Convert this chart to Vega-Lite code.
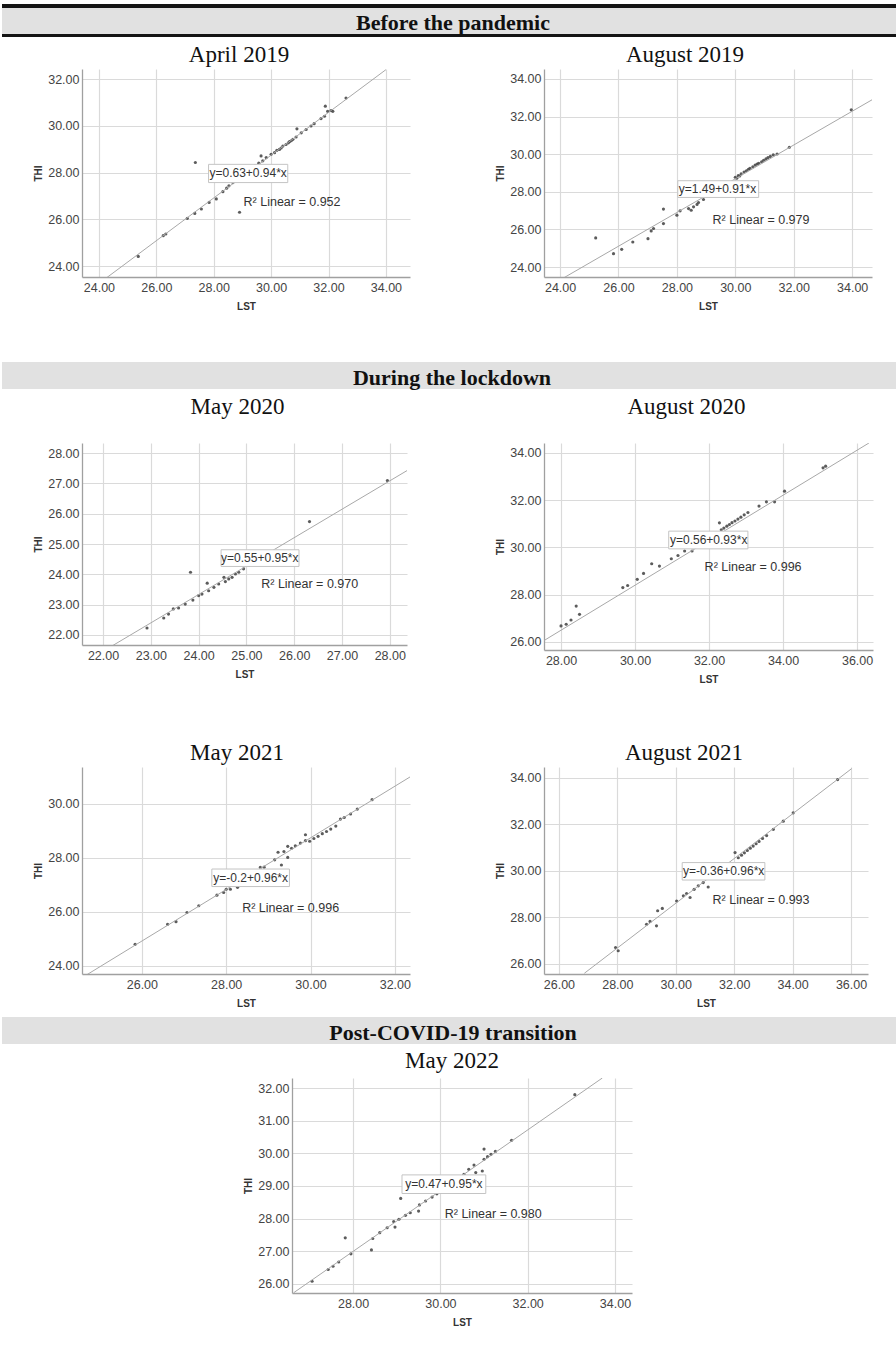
{
  "$schema": "https://vega.github.io/schema/vega-lite/v6.json",
  "background": "white",
  "padding": {"left": 0, "top": 3, "right": 0, "bottom": 0},
  "datasets": {
    "pts": [
      {"p":"A19","LST":25.37,"THI":24.41},{"p":"A19","LST":26.24,"THI":25.3},{"p":"A19","LST":26.33,"THI":25.37},{"p":"A19","LST":27.08,"THI":26.04},{"p":"A19","LST":27.34,"THI":26.25},{"p":"A19","LST":27.57,"THI":26.44},{"p":"A19","LST":27.36,"THI":28.43},{"p":"A19","LST":27.84,"THI":26.72},{"p":"A19","LST":28.09,"THI":26.87},{"p":"A19","LST":28.32,"THI":27.18},{"p":"A19","LST":28.45,"THI":27.33},{"p":"A19","LST":28.53,"THI":27.43},{"p":"A19","LST":28.67,"THI":27.57},{"p":"A19","LST":28.79,"THI":27.7},{"p":"A19","LST":28.9,"THI":26.3},{"p":"A19","LST":29.05,"THI":27.9},{"p":"A19","LST":29.25,"THI":28.1},{"p":"A19","LST":29.45,"THI":28.3},{"p":"A19","LST":29.57,"THI":28.4},{"p":"A19","LST":29.65,"THI":28.71},{"p":"A19","LST":29.71,"THI":28.5},{"p":"A19","LST":29.83,"THI":28.64},{"p":"A19","LST":30.0,"THI":28.78},{"p":"A19","LST":30.12,"THI":28.85},{"p":"A19","LST":30.2,"THI":28.95},{"p":"A19","LST":30.29,"THI":28.99},{"p":"A19","LST":30.35,"THI":29.05},{"p":"A19","LST":30.41,"THI":29.13},{"p":"A19","LST":30.52,"THI":29.2},{"p":"A19","LST":30.6,"THI":29.27},{"p":"A19","LST":30.64,"THI":29.32},{"p":"A19","LST":30.7,"THI":29.36},{"p":"A19","LST":30.76,"THI":29.42},{"p":"A19","LST":30.87,"THI":29.52},{"p":"A19","LST":30.9,"THI":29.87},{"p":"A19","LST":31.05,"THI":29.7},{"p":"A19","LST":31.22,"THI":29.84},{"p":"A19","LST":31.39,"THI":29.99},{"p":"A19","LST":31.5,"THI":30.09},{"p":"A19","LST":31.74,"THI":30.31},{"p":"A19","LST":31.86,"THI":30.41},{"p":"A19","LST":31.89,"THI":30.84},{"p":"A19","LST":31.97,"THI":30.62},{"p":"A19","LST":32.09,"THI":30.65},{"p":"A19","LST":32.15,"THI":30.62},{"p":"A19","LST":32.61,"THI":31.19},
      {"p":"G19","LST":25.22,"THI":25.55},{"p":"G19","LST":25.83,"THI":24.71},{"p":"G19","LST":26.11,"THI":24.94},{"p":"G19","LST":26.49,"THI":25.33},{"p":"G19","LST":27.01,"THI":25.51},{"p":"G19","LST":27.12,"THI":25.92},{"p":"G19","LST":27.2,"THI":26.05},{"p":"G19","LST":27.54,"THI":26.31},{"p":"G19","LST":27.54,"THI":27.08},{"p":"G19","LST":28.0,"THI":26.76},{"p":"G19","LST":28.11,"THI":26.99},{"p":"G19","LST":28.4,"THI":27.11},{"p":"G19","LST":28.49,"THI":27.02},{"p":"G19","LST":28.57,"THI":27.2},{"p":"G19","LST":28.69,"THI":27.33},{"p":"G19","LST":28.74,"THI":27.43},{"p":"G19","LST":28.91,"THI":27.59},{"p":"G19","LST":30.0,"THI":28.77},{"p":"G19","LST":30.05,"THI":28.72},{"p":"G19","LST":30.1,"THI":28.86},{"p":"G19","LST":30.15,"THI":28.84},{"p":"G19","LST":30.2,"THI":28.95},{"p":"G19","LST":30.3,"THI":29.05},{"p":"G19","LST":30.38,"THI":29.12},{"p":"G19","LST":30.45,"THI":29.2},{"p":"G19","LST":30.5,"THI":29.25},{"p":"G19","LST":30.6,"THI":29.33},{"p":"G19","LST":30.68,"THI":29.42},{"p":"G19","LST":30.75,"THI":29.48},{"p":"G19","LST":30.8,"THI":29.52},{"p":"G19","LST":30.9,"THI":29.6},{"p":"G19","LST":30.97,"THI":29.68},{"p":"G19","LST":31.05,"THI":29.75},{"p":"G19","LST":31.12,"THI":29.82},{"p":"G19","LST":31.2,"THI":29.88},{"p":"G19","LST":31.3,"THI":29.96},{"p":"G19","LST":31.43,"THI":30.01},{"p":"G19","LST":31.85,"THI":30.37},{"p":"G19","LST":33.97,"THI":32.36},
      {"p":"M20","LST":22.92,"THI":22.23},{"p":"M20","LST":23.27,"THI":22.56},{"p":"M20","LST":23.37,"THI":22.69},{"p":"M20","LST":23.47,"THI":22.86},{"p":"M20","LST":23.58,"THI":22.89},{"p":"M20","LST":23.72,"THI":23.02},{"p":"M20","LST":23.83,"THI":24.07},{"p":"M20","LST":23.88,"THI":23.15},{"p":"M20","LST":24.0,"THI":23.3},{"p":"M20","LST":24.07,"THI":23.35},{"p":"M20","LST":24.18,"THI":23.71},{"p":"M20","LST":24.21,"THI":23.46},{"p":"M20","LST":24.32,"THI":23.57},{"p":"M20","LST":24.42,"THI":23.68},{"p":"M20","LST":24.53,"THI":23.9},{"p":"M20","LST":24.56,"THI":23.76},{"p":"M20","LST":24.63,"THI":23.85},{"p":"M20","LST":24.7,"THI":23.9},{"p":"M20","LST":24.77,"THI":24.01},{"p":"M20","LST":24.84,"THI":24.07},{"p":"M20","LST":24.94,"THI":24.18},{"p":"M20","LST":25.05,"THI":24.29},{"p":"M20","LST":26.32,"THI":25.74},{"p":"M20","LST":27.95,"THI":27.09},
      {"p":"G20","LST":28.0,"THI":26.68},{"p":"G20","LST":28.14,"THI":26.75},{"p":"G20","LST":28.27,"THI":26.93},{"p":"G20","LST":28.41,"THI":27.52},{"p":"G20","LST":28.5,"THI":27.17},{"p":"G20","LST":29.67,"THI":28.3},{"p":"G20","LST":29.8,"THI":28.39},{"p":"G20","LST":30.06,"THI":28.65},{"p":"G20","LST":30.23,"THI":28.9},{"p":"G20","LST":30.45,"THI":29.31},{"p":"G20","LST":30.66,"THI":29.21},{"p":"G20","LST":30.98,"THI":29.52},{"p":"G20","LST":31.16,"THI":29.66},{"p":"G20","LST":31.34,"THI":29.85},{"p":"G20","LST":31.54,"THI":29.85},{"p":"G20","LST":32.28,"THI":31.04},{"p":"G20","LST":32.33,"THI":30.75},{"p":"G20","LST":32.4,"THI":30.82},{"p":"G20","LST":32.48,"THI":30.9},{"p":"G20","LST":32.55,"THI":30.97},{"p":"G20","LST":32.62,"THI":31.05},{"p":"G20","LST":32.7,"THI":31.12},{"p":"G20","LST":32.78,"THI":31.2},{"p":"G20","LST":32.86,"THI":31.28},{"p":"G20","LST":32.95,"THI":31.38},{"p":"G20","LST":33.05,"THI":31.48},{"p":"G20","LST":33.35,"THI":31.75},{"p":"G20","LST":33.55,"THI":31.93},{"p":"G20","LST":33.77,"THI":31.93},{"p":"G20","LST":34.04,"THI":32.38},{"p":"G20","LST":35.08,"THI":33.37},{"p":"G20","LST":35.15,"THI":33.44},
      {"p":"M21","LST":25.84,"THI":24.8},{"p":"M21","LST":26.61,"THI":25.54},{"p":"M21","LST":26.81,"THI":25.64},{"p":"M21","LST":27.07,"THI":25.98},{"p":"M21","LST":27.35,"THI":26.23},{"p":"M21","LST":27.78,"THI":26.62},{"p":"M21","LST":27.94,"THI":26.72},{"p":"M21","LST":28.0,"THI":26.84},{"p":"M21","LST":28.1,"THI":26.84},{"p":"M21","LST":28.27,"THI":26.91},{"p":"M21","LST":28.81,"THI":27.65},{"p":"M21","LST":28.9,"THI":27.66},{"p":"M21","LST":29.15,"THI":27.93},{"p":"M21","LST":29.23,"THI":28.21},{"p":"M21","LST":29.31,"THI":27.74},{"p":"M21","LST":29.37,"THI":28.24},{"p":"M21","LST":29.46,"THI":28.43},{"p":"M21","LST":29.46,"THI":28.02},{"p":"M21","LST":29.55,"THI":28.36},{"p":"M21","LST":29.64,"THI":28.45},{"p":"M21","LST":29.76,"THI":28.55},{"p":"M21","LST":29.88,"THI":28.86},{"p":"M21","LST":29.88,"THI":28.64},{"p":"M21","LST":29.98,"THI":28.62},{"p":"M21","LST":30.08,"THI":28.72},{"p":"M21","LST":30.18,"THI":28.8},{"p":"M21","LST":30.28,"THI":28.9},{"p":"M21","LST":30.38,"THI":28.98},{"p":"M21","LST":30.48,"THI":29.07},{"p":"M21","LST":30.6,"THI":29.18},{"p":"M21","LST":30.71,"THI":29.44},{"p":"M21","LST":30.8,"THI":29.5},{"p":"M21","LST":30.95,"THI":29.63},{"p":"M21","LST":31.11,"THI":29.81},{"p":"M21","LST":31.46,"THI":30.16},
      {"p":"G21","LST":27.94,"THI":26.71},{"p":"G21","LST":28.03,"THI":26.57},{"p":"G21","LST":29.0,"THI":27.71},{"p":"G21","LST":29.12,"THI":27.83},{"p":"G21","LST":29.34,"THI":27.64},{"p":"G21","LST":29.38,"THI":28.29},{"p":"G21","LST":29.54,"THI":28.39},{"p":"G21","LST":30.03,"THI":28.71},{"p":"G21","LST":30.26,"THI":28.93},{"p":"G21","LST":30.37,"THI":29.03},{"p":"G21","LST":30.49,"THI":28.86},{"p":"G21","LST":30.63,"THI":29.21},{"p":"G21","LST":30.77,"THI":29.36},{"p":"G21","LST":30.94,"THI":29.5},{"p":"G21","LST":31.11,"THI":29.31},{"p":"G21","LST":32.03,"THI":30.79},{"p":"G21","LST":32.14,"THI":30.57},{"p":"G21","LST":32.25,"THI":30.68},{"p":"G21","LST":32.35,"THI":30.78},{"p":"G21","LST":32.45,"THI":30.88},{"p":"G21","LST":32.55,"THI":30.98},{"p":"G21","LST":32.65,"THI":31.07},{"p":"G21","LST":32.75,"THI":31.17},{"p":"G21","LST":32.85,"THI":31.27},{"p":"G21","LST":32.97,"THI":31.4},{"p":"G21","LST":33.11,"THI":31.52},{"p":"G21","LST":33.34,"THI":31.79},{"p":"G21","LST":33.68,"THI":32.14},{"p":"G21","LST":34.02,"THI":32.5},{"p":"G21","LST":35.54,"THI":33.93},
      {"p":"M22","LST":27.06,"THI":26.08},{"p":"M22","LST":27.43,"THI":26.44},{"p":"M22","LST":27.54,"THI":26.54},{"p":"M22","LST":27.67,"THI":26.67},{"p":"M22","LST":27.82,"THI":27.41},{"p":"M22","LST":27.95,"THI":26.92},{"p":"M22","LST":28.42,"THI":27.04},{"p":"M22","LST":28.45,"THI":27.39},{"p":"M22","LST":28.61,"THI":27.57},{"p":"M22","LST":28.78,"THI":27.72},{"p":"M22","LST":28.96,"THI":27.74},{"p":"M22","LST":28.93,"THI":27.91},{"p":"M22","LST":29.09,"THI":28.62},{"p":"M22","LST":29.05,"THI":27.98},{"p":"M22","LST":29.2,"THI":28.1},{"p":"M22","LST":29.31,"THI":28.18},{"p":"M22","LST":29.5,"THI":28.23},{"p":"M22","LST":29.52,"THI":28.42},{"p":"M22","LST":29.66,"THI":28.54},{"p":"M22","LST":29.81,"THI":28.66},{"p":"M22","LST":29.92,"THI":28.76},{"p":"M22","LST":30.02,"THI":28.86},{"p":"M22","LST":30.12,"THI":28.96},{"p":"M22","LST":30.22,"THI":29.05},{"p":"M22","LST":30.32,"THI":29.15},{"p":"M22","LST":30.42,"THI":29.26},{"p":"M22","LST":30.54,"THI":29.36},{"p":"M22","LST":30.65,"THI":29.51},{"p":"M22","LST":30.77,"THI":29.64},{"p":"M22","LST":30.81,"THI":29.41},{"p":"M22","LST":30.96,"THI":29.46},{"p":"M22","LST":31.0,"THI":30.13},{"p":"M22","LST":31.0,"THI":29.82},{"p":"M22","LST":31.08,"THI":29.9},{"p":"M22","LST":31.16,"THI":29.97},{"p":"M22","LST":31.26,"THI":30.06},{"p":"M22","LST":31.63,"THI":30.4},{"p":"M22","LST":33.08,"THI":31.8}
    ],
    "fit": [
      {"p":"A19","LST":24.27,"THI":23.5},{"p":"A19","LST":34.0,"THI":32.4},
      {"p":"G19","LST":23.45,"THI":22.82},{"p":"G19","LST":34.69,"THI":32.9},
      {"p":"M20","LST":21.56,"THI":21.05},{"p":"M20","LST":28.36,"THI":27.42},
      {"p":"G20","LST":27.52,"THI":26.04},{"p":"G20","LST":36.32,"THI":34.42},
      {"p":"M21","LST":24.65,"THI":23.63},{"p":"M21","LST":32.37,"THI":31.01},
      {"p":"G21","LST":26.87,"THI":25.6},{"p":"G21","LST":36.02,"THI":34.4},
      {"p":"M22","LST":26.64,"THI":25.73},{"p":"M22","LST":33.71,"THI":32.31}
    ],
    "notes": [
      {"p":"A19","eq":"y=0.63+0.94*x","r2":"R² Linear = 0.952","eqLST":29.2,"eqTHI":27.96,"bx1":27.82,"bx2":30.58,"by1":27.57,"by2":28.35,"r2LST":29.04,"r2THI":26.72},
      {"p":"G19","eq":"y=1.49+0.91*x","r2":"R² Linear = 0.979","eqLST":29.39,"eqTHI":28.15,"bx1":28.03,"bx2":30.8,"by1":27.7,"by2":28.59,"r2LST":29.22,"r2THI":26.49},
      {"p":"M20","eq":"y=0.55+0.95*x","r2":"R² Linear = 0.970","eqLST":25.28,"eqTHI":24.54,"bx1":24.47,"bx2":26.1,"by1":24.26,"by2":24.81,"r2LST":25.31,"r2THI":23.68},
      {"p":"G20","eq":"y=0.56+0.93*x","r2":"R² Linear = 0.996","eqLST":31.99,"eqTHI":30.31,"bx1":30.91,"bx2":33.05,"by1":29.94,"by2":30.69,"r2LST":31.88,"r2THI":29.17},
      {"p":"M21","eq":"y=-0.2+0.96*x","r2":"R² Linear = 0.996","eqLST":28.58,"eqTHI":27.25,"bx1":27.66,"bx2":29.5,"by1":26.94,"by2":27.59,"r2LST":28.38,"r2THI":26.13},
      {"p":"G21","eq":"y=-0.36+0.96*x","r2":"R² Linear = 0.993","eqLST":31.64,"eqTHI":29.99,"bx1":30.22,"bx2":33.05,"by1":29.61,"by2":30.36,"r2LST":31.26,"r2THI":28.74},
      {"p":"M22","eq":"y=0.47+0.95*x","r2":"R² Linear = 0.980","eqLST":30.08,"eqTHI":29.05,"bx1":29.12,"bx2":31.04,"by1":28.77,"by2":29.34,"r2LST":30.1,"r2THI":28.15}
    ],
    "heads": [
      {"h":1,"label":"Before the pandemic"},
      {"h":2,"label":"During the lockdown"},
      {"h":3,"label":"Post-COVID-19 transition"}
    ]
  },
  "bounds": "full",
  "spacing": 0,
  "vconcat": [
    {
      "columns": 4,
      "bounds": "flush",
      "align": "each",
      "spacing": 0,
      "concat": [
        {"width": 80, "height": 33, "data": {"name": "heads"}, "transform": [{"filter": "datum.h === 1"}], "view": {"fill": "#e1e1e1", "stroke": null},
         "layer": [
           {"mark": {"type": "rule", "color": "#141414", "strokeWidth": 4}, "encoding": {"y": {"datum": 31, "type": "quantitative", "scale": {"domain": [0, 33], "nice": false}, "axis": null}}},
           {"mark": {"type": "rule", "color": "#141414", "strokeWidth": 3}, "encoding": {"y": {"datum": 1.5, "type": "quantitative"}}}
         ]},
        {"width": 328, "height": 33, "data": {"name": "heads"}, "transform": [{"filter": "datum.h === 1"}], "view": {"fill": "#e1e1e1", "stroke": null},
         "layer": [
           {"mark": {"type": "rule", "color": "#141414", "strokeWidth": 4}, "encoding": {"y": {"datum": 31, "type": "quantitative", "scale": {"domain": [0, 33], "nice": false}, "axis": null}}},
           {"mark": {"type": "rule", "color": "#141414", "strokeWidth": 3}, "encoding": {"y": {"datum": 1.5, "type": "quantitative"}}}
         ]},
        {"width": 134, "height": 33, "data": {"name": "heads"}, "transform": [{"filter": "datum.h === 1"}], "view": {"fill": "#e1e1e1", "stroke": null},
         "layer": [
           {"mark": {"type": "rule", "color": "#141414", "strokeWidth": 4}, "encoding": {"y": {"datum": 31, "type": "quantitative", "scale": {"domain": [0, 33], "nice": false}, "axis": null}}},
           {"mark": {"type": "rule", "color": "#141414", "strokeWidth": 3}, "encoding": {"y": {"datum": 1.5, "type": "quantitative"}}}
         ]},
        {"width": 354, "height": 33, "data": {"name": "heads"}, "transform": [{"filter": "datum.h === 1"}], "view": {"fill": "#e1e1e1", "stroke": null},
         "layer": [
           {"mark": {"type": "rule", "color": "#141414", "strokeWidth": 4}, "encoding": {"y": {"datum": 31, "type": "quantitative", "scale": {"domain": [0, 33], "nice": false}, "axis": null}}},
           {"mark": {"type": "rule", "color": "#141414", "strokeWidth": 3}, "encoding": {"y": {"datum": 1.5, "type": "quantitative"}}},
           {"mark": {"type": "text", "font": "Liberation Serif", "fontWeight": "bold", "fontSize": 22, "color": "#111", "dy": 2, "dx": -268}, "encoding": {"text": {"field": "label"}}}
         ]},

        {"width": 1, "height": 32, "data": {"values": []}, "mark": "point"},
        {"width": 0, "height": 1, "data": {"values": []}, "mark": "point"},
        {"width": 0, "height": 1, "data": {"values": []}, "mark": "point"},
        {"width": 0, "height": 1, "data": {"values": []}, "mark": "point"},

        {"width": 80, "height": 1, "data": {"values": []}, "mark": "point"},
        {
          "width": 328, "height": 208,
          "title": {"text": "April 2019", "dx": -7},
          "layer": [
            {"data": {"name": "pts"}, "transform": [{"filter": "datum.p === 'A19'"}], "mark": {"type": "circle", "size": 10, "color": "#4a4a4a", "opacity": 0.9},
             "encoding": {"x": {"field": "LST", "type": "quantitative", "scale": {"domain": [23.41, 34.84], "nice": false, "zero": false}, "axis": {"title": "LST", "values": [24, 26, 28, 30, 32, 34], "format": ".2f", "tickCount": 20}},
                          "y": {"field": "THI", "type": "quantitative", "scale": {"domain": [23.53, 32.43], "nice": false, "zero": false}, "axis": {"title": "THI", "values": [24, 26, 28, 30, 32], "format": ".2f", "tickCount": 20}}}},
            {"data": {"name": "fit"}, "transform": [{"filter": "datum.p === 'A19'"}], "mark": {"type": "line", "color": "#a8a8a8", "strokeWidth": 1, "clip": true}, "encoding": {"x": {"field": "LST", "type": "quantitative"}, "y": {"field": "THI", "type": "quantitative"}}},
            {"data": {"name": "notes"}, "transform": [{"filter": "datum.p === 'A19'"}], "mark": {"type": "rect", "fill": "white", "stroke": "#c4c4c4", "strokeWidth": 1}, "encoding": {"x": {"field": "bx1", "type": "quantitative"}, "x2": {"field": "bx2"}, "y": {"field": "by1", "type": "quantitative"}, "y2": {"field": "by2"}}},
            {"data": {"name": "notes"}, "transform": [{"filter": "datum.p === 'A19'"}], "mark": {"type": "text", "font": "Liberation Sans", "fontSize": 12, "color": "#333"}, "encoding": {"x": {"field": "eqLST", "type": "quantitative"}, "y": {"field": "eqTHI", "type": "quantitative"}, "text": {"field": "eq"}}},
            {"data": {"name": "notes"}, "transform": [{"filter": "datum.p === 'A19'"}], "mark": {"type": "text", "align": "left", "font": "Liberation Sans", "fontSize": 12.5, "color": "#333"}, "encoding": {"x": {"field": "r2LST", "type": "quantitative"}, "y": {"field": "r2THI", "type": "quantitative"}, "text": {"field": "r2"}}}
          ]
        },
        {"width": 134, "height": 1, "data": {"values": []}, "mark": "point"},
        {
          "width": 328, "height": 208,
          "title": {"text": "August 2019", "dx": -23},
          "layer": [
            {"data": {"name": "pts"}, "transform": [{"filter": "datum.p === 'G19'"}], "mark": {"type": "circle", "size": 10, "color": "#4a4a4a", "opacity": 0.9},
             "encoding": {"x": {"field": "LST", "type": "quantitative", "scale": {"domain": [23.45, 34.68], "nice": false, "zero": false}, "axis": {"title": "LST", "values": [24, 26, 28, 30, 32, 34], "format": ".2f", "tickCount": 20}},
                          "y": {"field": "THI", "type": "quantitative", "scale": {"domain": [23.47, 34.53], "nice": false, "zero": false}, "axis": {"title": "THI", "values": [24, 26, 28, 30, 32, 34], "format": ".2f", "tickCount": 20}}}},
            {"data": {"name": "fit"}, "transform": [{"filter": "datum.p === 'G19'"}], "mark": {"type": "line", "color": "#a8a8a8", "strokeWidth": 1, "clip": true}, "encoding": {"x": {"field": "LST", "type": "quantitative"}, "y": {"field": "THI", "type": "quantitative"}}},
            {"data": {"name": "notes"}, "transform": [{"filter": "datum.p === 'G19'"}], "mark": {"type": "rect", "fill": "white", "stroke": "#c4c4c4", "strokeWidth": 1}, "encoding": {"x": {"field": "bx1", "type": "quantitative"}, "x2": {"field": "bx2"}, "y": {"field": "by1", "type": "quantitative"}, "y2": {"field": "by2"}}},
            {"data": {"name": "notes"}, "transform": [{"filter": "datum.p === 'G19'"}], "mark": {"type": "text", "font": "Liberation Sans", "fontSize": 12, "color": "#333"}, "encoding": {"x": {"field": "eqLST", "type": "quantitative"}, "y": {"field": "eqTHI", "type": "quantitative"}, "text": {"field": "eq"}}},
            {"data": {"name": "notes"}, "transform": [{"filter": "datum.p === 'G19'"}], "mark": {"type": "text", "align": "left", "font": "Liberation Sans", "fontSize": 12.5, "color": "#333"}, "encoding": {"x": {"field": "r2LST", "type": "quantitative"}, "y": {"field": "r2THI", "type": "quantitative"}, "text": {"field": "r2"}}}
          ]
        },

        {"width": 1, "height": 85, "data": {"values": []}, "mark": "point"},
        {"width": 0, "height": 1, "data": {"values": []}, "mark": "point"},
        {"width": 0, "height": 1, "data": {"values": []}, "mark": "point"},
        {"width": 0, "height": 1, "data": {"values": []}, "mark": "point"},

        {"width": 80, "height": 27, "data": {"values": []}, "mark": "point", "view": {"fill": "#e1e1e1", "stroke": null}},
        {"width": 328, "height": 27, "data": {"values": []}, "mark": "point", "view": {"fill": "#e1e1e1", "stroke": null}},
        {"width": 134, "height": 27, "data": {"values": []}, "mark": "point", "view": {"fill": "#e1e1e1", "stroke": null}},
        {"width": 354, "height": 27, "data": {"name": "heads"}, "transform": [{"filter": "datum.h === 2"}], "view": {"fill": "#e1e1e1", "stroke": null},
         "mark": {"type": "text", "font": "Liberation Serif", "fontWeight": "bold", "fontSize": 22, "color": "#111", "dy": 2.5, "dx": -269},
         "encoding": {"text": {"field": "label"}}},

        {"width": 1, "height": 54, "data": {"values": []}, "mark": "point"},
        {"width": 0, "height": 1, "data": {"values": []}, "mark": "point"},
        {"width": 0, "height": 1, "data": {"values": []}, "mark": "point"},
        {"width": 0, "height": 1, "data": {"values": []}, "mark": "point"},

        {"width": 80, "height": 1, "data": {"values": []}, "mark": "point"},
        {
          "width": 325, "height": 202,
          "title": {"text": "May 2020", "dx": -7, "offset": 24},
          "layer": [
            {"data": {"name": "pts"}, "transform": [{"filter": "datum.p === 'M20'"}], "mark": {"type": "circle", "size": 10, "color": "#4a4a4a", "opacity": 0.9},
             "encoding": {"x": {"field": "LST", "type": "quantitative", "scale": {"domain": [21.56, 28.36], "nice": false, "zero": false}, "axis": {"title": "LST", "values": [22, 23, 24, 25, 26, 27, 28], "format": ".2f", "tickCount": 20}},
                          "y": {"field": "THI", "type": "quantitative", "scale": {"domain": [21.67, 28.33], "nice": false, "zero": false}, "axis": {"title": "THI", "values": [22, 23, 24, 25, 26, 27, 28], "format": ".2f", "tickCount": 20}}}},
            {"data": {"name": "fit"}, "transform": [{"filter": "datum.p === 'M20'"}], "mark": {"type": "line", "color": "#a8a8a8", "strokeWidth": 1, "clip": true}, "encoding": {"x": {"field": "LST", "type": "quantitative"}, "y": {"field": "THI", "type": "quantitative"}}},
            {"data": {"name": "notes"}, "transform": [{"filter": "datum.p === 'M20'"}], "mark": {"type": "rect", "fill": "white", "stroke": "#c4c4c4", "strokeWidth": 1}, "encoding": {"x": {"field": "bx1", "type": "quantitative"}, "x2": {"field": "bx2"}, "y": {"field": "by1", "type": "quantitative"}, "y2": {"field": "by2"}}},
            {"data": {"name": "notes"}, "transform": [{"filter": "datum.p === 'M20'"}], "mark": {"type": "text", "font": "Liberation Sans", "fontSize": 12, "color": "#333"}, "encoding": {"x": {"field": "eqLST", "type": "quantitative"}, "y": {"field": "eqTHI", "type": "quantitative"}, "text": {"field": "eq"}}},
            {"data": {"name": "notes"}, "transform": [{"filter": "datum.p === 'M20'"}], "mark": {"type": "text", "align": "left", "font": "Liberation Sans", "fontSize": 12.5, "color": "#333"}, "encoding": {"x": {"field": "r2LST", "type": "quantitative"}, "y": {"field": "r2THI", "type": "quantitative"}, "text": {"field": "r2"}}}
          ]
        },
        {"width": 134, "height": 1, "data": {"values": []}, "mark": "point"},
        {
          "width": 329, "height": 207,
          "title": {"text": "August 2020", "dx": -22, "offset": 24},
          "layer": [
            {"data": {"name": "pts"}, "transform": [{"filter": "datum.p === 'G20'"}], "mark": {"type": "circle", "size": 10, "color": "#4a4a4a", "opacity": 0.9},
             "encoding": {"x": {"field": "LST", "type": "quantitative", "scale": {"domain": [27.54, 36.43], "nice": false, "zero": false}, "axis": {"title": "LST", "values": [28, 30, 32, 34, 36], "format": ".2f", "tickCount": 20}},
                          "y": {"field": "THI", "type": "quantitative", "scale": {"domain": [25.66, 34.42], "nice": false, "zero": false}, "axis": {"title": "THI", "values": [26, 28, 30, 32, 34], "format": ".2f", "tickCount": 20}}}},
            {"data": {"name": "fit"}, "transform": [{"filter": "datum.p === 'G20'"}], "mark": {"type": "line", "color": "#a8a8a8", "strokeWidth": 1, "clip": true}, "encoding": {"x": {"field": "LST", "type": "quantitative"}, "y": {"field": "THI", "type": "quantitative"}}},
            {"data": {"name": "notes"}, "transform": [{"filter": "datum.p === 'G20'"}], "mark": {"type": "rect", "fill": "white", "stroke": "#c4c4c4", "strokeWidth": 1}, "encoding": {"x": {"field": "bx1", "type": "quantitative"}, "x2": {"field": "bx2"}, "y": {"field": "by1", "type": "quantitative"}, "y2": {"field": "by2"}}},
            {"data": {"name": "notes"}, "transform": [{"filter": "datum.p === 'G20'"}], "mark": {"type": "text", "font": "Liberation Sans", "fontSize": 12, "color": "#333"}, "encoding": {"x": {"field": "eqLST", "type": "quantitative"}, "y": {"field": "eqTHI", "type": "quantitative"}, "text": {"field": "eq"}}},
            {"data": {"name": "notes"}, "transform": [{"filter": "datum.p === 'G20'"}], "mark": {"type": "text", "align": "left", "font": "Liberation Sans", "fontSize": 12.5, "color": "#333"}, "encoding": {"x": {"field": "r2LST", "type": "quantitative"}, "y": {"field": "r2THI", "type": "quantitative"}, "text": {"field": "r2"}}}
          ]
        },

        {"width": 1, "height": 117, "data": {"values": []}, "mark": "point"},
        {"width": 0, "height": 1, "data": {"values": []}, "mark": "point"},
        {"width": 0, "height": 1, "data": {"values": []}, "mark": "point"},
        {"width": 0, "height": 1, "data": {"values": []}, "mark": "point"},

        {"width": 80, "height": 1, "data": {"values": []}, "mark": "point"},
        {
          "width": 328, "height": 207,
          "title": {"text": "May 2021", "dx": -9},
          "layer": [
            {"data": {"name": "pts"}, "transform": [{"filter": "datum.p === 'M21'"}], "mark": {"type": "circle", "size": 10, "color": "#4a4a4a", "opacity": 0.9},
             "encoding": {"x": {"field": "LST", "type": "quantitative", "scale": {"domain": [24.58, 32.36], "nice": false, "zero": false}, "axis": {"title": "LST", "values": [26, 28, 30, 32], "format": ".2f", "tickCount": 20}},
                          "y": {"field": "THI", "type": "quantitative", "scale": {"domain": [23.7, 31.37], "nice": false, "zero": false}, "axis": {"title": "THI", "values": [24, 26, 28, 30], "format": ".2f", "tickCount": 20}}}},
            {"data": {"name": "fit"}, "transform": [{"filter": "datum.p === 'M21'"}], "mark": {"type": "line", "color": "#a8a8a8", "strokeWidth": 1, "clip": true}, "encoding": {"x": {"field": "LST", "type": "quantitative"}, "y": {"field": "THI", "type": "quantitative"}}},
            {"data": {"name": "notes"}, "transform": [{"filter": "datum.p === 'M21'"}], "mark": {"type": "rect", "fill": "white", "stroke": "#c4c4c4", "strokeWidth": 1}, "encoding": {"x": {"field": "bx1", "type": "quantitative"}, "x2": {"field": "bx2"}, "y": {"field": "by1", "type": "quantitative"}, "y2": {"field": "by2"}}},
            {"data": {"name": "notes"}, "transform": [{"filter": "datum.p === 'M21'"}], "mark": {"type": "text", "font": "Liberation Sans", "fontSize": 12, "color": "#333"}, "encoding": {"x": {"field": "eqLST", "type": "quantitative"}, "y": {"field": "eqTHI", "type": "quantitative"}, "text": {"field": "eq"}}},
            {"data": {"name": "notes"}, "transform": [{"filter": "datum.p === 'M21'"}], "mark": {"type": "text", "align": "left", "font": "Liberation Sans", "fontSize": 12.5, "color": "#333"}, "encoding": {"x": {"field": "r2LST", "type": "quantitative"}, "y": {"field": "r2THI", "type": "quantitative"}, "text": {"field": "r2"}}}
          ]
        },
        {"width": 134, "height": 1, "data": {"values": []}, "mark": "point"},
        {
          "width": 324, "height": 207,
          "title": {"text": "August 2021", "dx": -22},
          "layer": [
            {"data": {"name": "pts"}, "transform": [{"filter": "datum.p === 'G21'"}], "mark": {"type": "circle", "size": 10, "color": "#4a4a4a", "opacity": 0.9},
             "encoding": {"x": {"field": "LST", "type": "quantitative", "scale": {"domain": [25.49, 36.58], "nice": false, "zero": false}, "axis": {"title": "LST", "values": [26, 28, 30, 32, 34, 36], "format": ".2f", "tickCount": 20}},
                          "y": {"field": "THI", "type": "quantitative", "scale": {"domain": [25.57, 34.47], "nice": false, "zero": false}, "axis": {"title": "THI", "values": [26, 28, 30, 32, 34], "format": ".2f", "tickCount": 20}}}},
            {"data": {"name": "fit"}, "transform": [{"filter": "datum.p === 'G21'"}], "mark": {"type": "line", "color": "#a8a8a8", "strokeWidth": 1, "clip": true}, "encoding": {"x": {"field": "LST", "type": "quantitative"}, "y": {"field": "THI", "type": "quantitative"}}},
            {"data": {"name": "notes"}, "transform": [{"filter": "datum.p === 'G21'"}], "mark": {"type": "rect", "fill": "white", "stroke": "#c4c4c4", "strokeWidth": 1}, "encoding": {"x": {"field": "bx1", "type": "quantitative"}, "x2": {"field": "bx2"}, "y": {"field": "by1", "type": "quantitative"}, "y2": {"field": "by2"}}},
            {"data": {"name": "notes"}, "transform": [{"filter": "datum.p === 'G21'"}], "mark": {"type": "text", "font": "Liberation Sans", "fontSize": 12, "color": "#333"}, "encoding": {"x": {"field": "eqLST", "type": "quantitative"}, "y": {"field": "eqTHI", "type": "quantitative"}, "text": {"field": "eq"}}},
            {"data": {"name": "notes"}, "transform": [{"filter": "datum.p === 'G21'"}], "mark": {"type": "text", "align": "left", "font": "Liberation Sans", "fontSize": 12.5, "color": "#333"}, "encoding": {"x": {"field": "r2LST", "type": "quantitative"}, "y": {"field": "r2THI", "type": "quantitative"}, "text": {"field": "r2"}}}
          ]
        },

        {"width": 1, "height": 43, "data": {"values": []}, "mark": "point"},
        {"width": 0, "height": 1, "data": {"values": []}, "mark": "point"},
        {"width": 0, "height": 1, "data": {"values": []}, "mark": "point"},
        {"width": 0, "height": 1, "data": {"values": []}, "mark": "point"},

        {"width": 80, "height": 27, "data": {"values": []}, "mark": "point", "view": {"fill": "#e1e1e1", "stroke": null}},
        {"width": 328, "height": 27, "data": {"values": []}, "mark": "point", "view": {"fill": "#e1e1e1", "stroke": null}},
        {"width": 134, "height": 27, "data": {"values": []}, "mark": "point", "view": {"fill": "#e1e1e1", "stroke": null}},
        {"width": 354, "height": 27, "data": {"name": "heads"}, "transform": [{"filter": "datum.h === 3"}], "view": {"fill": "#e1e1e1", "stroke": null},
         "mark": {"type": "text", "font": "Liberation Serif", "fontWeight": "bold", "fontSize": 22, "color": "#111", "dy": 2.5, "dx": -268},
         "encoding": {"text": {"field": "label"}}},

        {"width": 1, "height": 6, "data": {"values": []}, "mark": "point"},
        {"width": 0, "height": 1, "data": {"values": []}, "mark": "point"},
        {"width": 0, "height": 1, "data": {"values": []}, "mark": "point"},
        {"width": 0, "height": 1, "data": {"values": []}, "mark": "point"}
      ]
    },
    {
      "bounds": "flush",
      "spacing": 0,
      "hconcat": [
        {"width": 290, "height": 1, "data": {"values": []}, "mark": "point"},
        {
          "width": 340, "height": 215,
          "title": {"text": "May 2022", "dx": -10, "offset": 5},
          "layer": [
            {"data": {"name": "pts"}, "transform": [{"filter": "datum.p === 'M22'"}], "mark": {"type": "circle", "size": 10, "color": "#4a4a4a", "opacity": 0.9},
             "encoding": {"x": {"field": "LST", "type": "quantitative", "scale": {"domain": [26.6, 34.39], "nice": false, "zero": false}, "axis": {"title": "LST", "values": [28, 30, 32, 34], "format": ".2f", "tickCount": 20}},
                          "y": {"field": "THI", "type": "quantitative", "scale": {"domain": [25.72, 32.31], "nice": false, "zero": false}, "axis": {"title": "THI", "values": [26, 27, 28, 29, 30, 31, 32], "format": ".2f", "tickCount": 20}}}},
            {"data": {"name": "fit"}, "transform": [{"filter": "datum.p === 'M22'"}], "mark": {"type": "line", "color": "#a8a8a8", "strokeWidth": 1, "clip": true}, "encoding": {"x": {"field": "LST", "type": "quantitative"}, "y": {"field": "THI", "type": "quantitative"}}},
            {"data": {"name": "notes"}, "transform": [{"filter": "datum.p === 'M22'"}], "mark": {"type": "rect", "fill": "white", "stroke": "#c4c4c4", "strokeWidth": 1}, "encoding": {"x": {"field": "bx1", "type": "quantitative"}, "x2": {"field": "bx2"}, "y": {"field": "by1", "type": "quantitative"}, "y2": {"field": "by2"}}},
            {"data": {"name": "notes"}, "transform": [{"filter": "datum.p === 'M22'"}], "mark": {"type": "text", "font": "Liberation Sans", "fontSize": 12, "color": "#333"}, "encoding": {"x": {"field": "eqLST", "type": "quantitative"}, "y": {"field": "eqTHI", "type": "quantitative"}, "text": {"field": "eq"}}},
            {"data": {"name": "notes"}, "transform": [{"filter": "datum.p === 'M22'"}], "mark": {"type": "text", "align": "left", "font": "Liberation Sans", "fontSize": 12.5, "color": "#333"}, "encoding": {"x": {"field": "r2LST", "type": "quantitative"}, "y": {"field": "r2THI", "type": "quantitative"}, "text": {"field": "r2"}}}
          ]
        }
      ]
    }
  ],
  "config": {
    "view": {"stroke": null},
    "concat": {"spacing": 0},
    "title": {"font": "Liberation Serif", "fontSize": 23, "fontWeight": "normal", "color": "#111", "anchor": "middle", "frame": "group", "offset": 2},
    "axis": {
      "ticks": false, "grid": true, "gridColor": "#dadada", "gridWidth": 1.2,
      "domainColor": "#a0a0a0", "domainWidth": 1.3,
      "labelFont": "Liberation Sans", "labelFontSize": 12.5, "labelColor": "#444", "labelFlush": false, "labelOverlap": false,
      "titleFont": "Liberation Sans", "titleFontSize": 10, "titleFontWeight": "bold", "titleColor": "#333"
    },
    "axisX": {"labelPadding": 4, "titlePadding": 8},
    "axisY": {"labelPadding": 3, "titlePadding": 4}
  }
}
